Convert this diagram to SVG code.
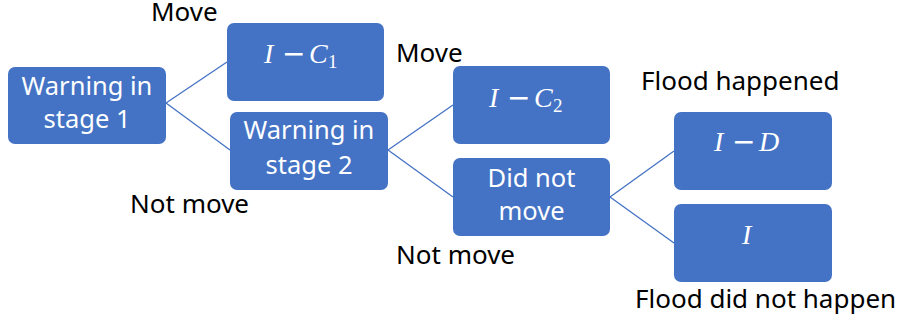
<svg xmlns="http://www.w3.org/2000/svg" width="904" height="322" viewBox="0 0 904 322">
  <style>
    .box { fill: #4472C4; }
    .lbl { font-family: "Noto Sans", "Liberation Sans", sans-serif; font-size: 26px; fill: #000; }
    .btxt { font-family: "Noto Sans", "Liberation Sans", sans-serif; font-size: 25.5px; fill: #fff; text-anchor: middle; }
    .math { font-family: "Liberation Serif", serif; font-style: italic; font-size: 28px; fill: #fff; }
    .op { font-family: "DejaVu Sans", sans-serif; font-style: normal; font-size: 28px; }
    .sub { font-style: normal; font-size: 19px; }
    .edge { stroke: #4472C4; stroke-width: 1.3; fill: none; }
  </style>
  <rect width="904" height="322" fill="#fff"/>

  <g id="connectors">
    <line class="edge" x1="166" y1="103" x2="227" y2="62"/>
    <line class="edge" x1="166" y1="103" x2="230" y2="150"/>
    <line class="edge" x1="388" y1="150" x2="453" y2="105"/>
    <line class="edge" x1="388" y1="150" x2="453" y2="197"/>
    <line class="edge" x1="610" y1="197" x2="674" y2="151"/>
    <line class="edge" x1="610" y1="197" x2="674" y2="243"/>
  </g>

  <g id="stage1">
    <rect class="box" x="8" y="67" width="158" height="77" rx="7"/>
    <text class="btxt" x="87" y="95">Warning in</text>
    <text class="btxt" x="87" y="128">stage 1</text>
  </g>

  <g id="cost1">
    <rect class="box" x="227" y="23" width="157" height="78" rx="7"/>
    <text class="math" y="63"><tspan x="264">I</tspan><tspan class="op" x="282">−</tspan><tspan x="309">C</tspan><tspan class="sub" x="328" dy="5">1</tspan></text>
  </g>

  <g id="stage2">
    <rect class="box" x="230" y="112" width="158" height="78" rx="7"/>
    <text class="btxt" x="309" y="139">Warning in</text>
    <text class="btxt" x="309" y="174">stage 2</text>
  </g>

  <g id="cost2">
    <rect class="box" x="453" y="66" width="157" height="78" rx="7"/>
    <text class="math" y="107"><tspan x="489">I</tspan><tspan class="op" x="507">−</tspan><tspan x="534">C</tspan><tspan class="sub" x="553" dy="5">2</tspan></text>
  </g>

  <g id="notmoved">
    <rect class="box" x="453" y="158" width="157" height="78" rx="7"/>
    <text class="btxt" x="531.5" y="187">Did not</text>
    <text class="btxt" x="531.5" y="220">move</text>
  </g>

  <g id="flood">
    <rect class="box" x="674" y="112" width="158" height="78" rx="7"/>
    <text class="math" y="151"><tspan x="714">I</tspan><tspan class="op" x="732">−</tspan><tspan x="759">D</tspan></text>
  </g>

  <g id="noflood">
    <rect class="box" x="674" y="204" width="158" height="78" rx="7"/>
    <text class="math" x="742" y="244">I</text>
  </g>

  <g id="labels">
    <text class="lbl" x="151" y="21">Move</text>
    <text class="lbl" x="396" y="62">Move</text>
    <text class="lbl" x="130" y="213">Not move</text>
    <text class="lbl" x="396" y="264">Not move</text>
    <text class="lbl" x="641" y="90">Flood happened</text>
    <text class="lbl" x="635" y="308">Flood did not happen</text>
  </g>
</svg>
